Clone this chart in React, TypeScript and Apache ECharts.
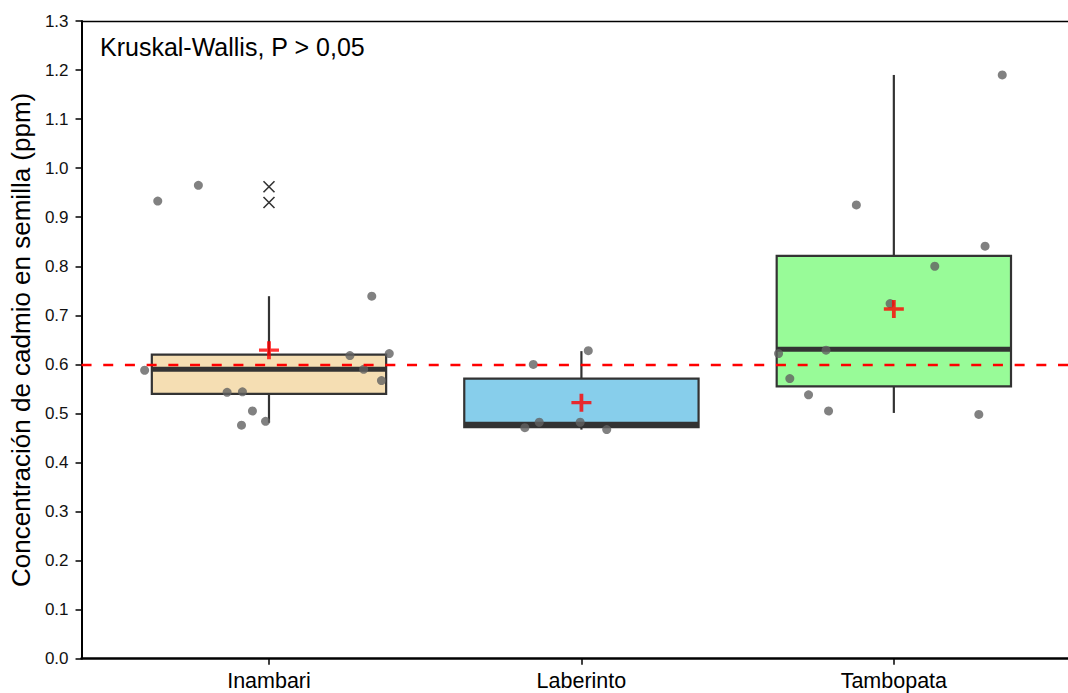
import React, { useEffect, useRef } from "react";
import * as echarts from "echarts";

const categories = ["Inambari", "Laberinto", "Tambopata"];

// [whisker low, Q1, median, Q3, whisker high]
const boxStats = [
  [0.481, 0.540, 0.590, 0.620, 0.739],
  [0.467, 0.472, 0.478, 0.571, 0.627],
  [0.501, 0.555, 0.631, 0.821, 1.190],
];

const means = [0.629, 0.522, 0.713];

// outliers of Inambari (group 0)
const outlierValues = [0.962, 0.930];

// jittered observations: [horizontal offset from category centre, value]
const pointsInambari = [
  [-0.356, 0.933], [-0.226, 0.965], [-0.398, 0.588], [-0.134, 0.543],
  [-0.085, 0.544], [-0.053, 0.505], [-0.088, 0.476], [-0.011, 0.484],
  [0.329, 0.739], [0.259, 0.618], [0.303, 0.590], [0.385, 0.622], [0.360, 0.567],
];
const pointsLaberinto = [
  [-0.154, 0.600], [0.022, 0.628], [-0.181, 0.471], [-0.135, 0.482],
  [-0.004, 0.482], [0.081, 0.467],
];
const pointsTambopata = [
  [0.347, 1.190], [-0.120, 0.925], [0.292, 0.841], [0.131, 0.800],
  [-0.012, 0.724], [-0.369, 0.622], [-0.217, 0.629], [-0.333, 0.571],
  [-0.273, 0.538], [-0.209, 0.505], [0.272, 0.498],
];

const threshold = 0.6;
const yTicks = [0, 1.3, 0.1]; // min, max, step
const annotation = "Kruskal-Wallis, P > 0,05";
const yTitle = "Concentración de cadmio en semilla (ppm)";

export default function App() {
  const ref = useRef<HTMLDivElement>(null);

  useEffect(() => {
    document.body.style.margin = "0";
    document.body.style.overflow = "hidden";
    if (!ref.current) return;
    const chart = echarts.init(ref.current, null, { renderer: "svg" });
    const font = "'Liberation Sans', Arial, sans-serif";
    const fills = ["#F5DEB3", "#87CEEB", "#98FB98"];
    const edge = "#333333";
    const halfBox = 0.375;

    const groups = [pointsInambari, pointsLaberinto, pointsTambopata];
    const points: number[][] = [];
    groups.forEach((g, gi) => g.forEach((p) => points.push([gi + p[0], p[1]])));

    const option: any = {
      animation: false,
      grid: { left: 80.7, top: 21, right: 3.7, bottom: 34.3, show: false },
      title: {
        text: annotation,
        left: 100,
        top: 34,
        padding: 0,
        textStyle: { fontFamily: font, fontSize: 25, fontWeight: "normal", color: "#000" },
      },
      xAxis: [
        {
          type: "value",
          min: -0.6,
          max: 2.6,
          splitLine: { show: false },
          axisLine: { show: true, onZero: false, lineStyle: { color: "#000", width: 2.5 } },
          axisTick: { show: true, customValues: [0, 1, 2], length: 6, lineStyle: { color: "#000", width: 1.5 } },
          axisLabel: {
            customValues: [0, 1, 2],
            formatter: (v: number) => categories[Math.round(v)] ?? "",
            fontFamily: font,
            fontSize: 21.5,
            color: "#000",
            margin: 11,
          },
        },
        {
          type: "value",
          position: "top",
          min: -0.6,
          max: 2.6,
          splitLine: { show: false },
          axisLine: { show: true, onZero: false, lineStyle: { color: "#000", width: 1.3 } },
          axisTick: { show: false },
          axisLabel: { show: false },
        },
      ],
      yAxis: {
        type: "value",
        min: yTicks[0],
        max: yTicks[1],
        interval: yTicks[2],
        name: yTitle,
        nameLocation: "middle",
        nameGap: 45,
        nameTextStyle: { fontFamily: font, fontSize: 26, color: "#000" },
        splitLine: { show: false },
        axisLine: { show: true, onZero: false, lineStyle: { color: "#000", width: 2 } },
        axisTick: { show: true, length: 6, lineStyle: { color: "#000", width: 1.5 } },
        axisLabel: {
          formatter: (v: number) => v.toFixed(1),
          fontFamily: font,
          fontSize: 17,
          color: "#111",
          margin: 13,
        },
      },
      series: [
        {
          type: "custom",
          z: 2,
          data: boxStats.map((s, i) => [i, ...s]),
          encode: { x: 0, y: [1, 2, 3, 4, 5] },
          renderItem: (params: any, api: any) => {
            const x = api.value(0);
            const lo = api.value(1);
            const q1 = api.value(2);
            const med = api.value(3);
            const q3 = api.value(4);
            const hi = api.value(5);
            const tl = api.coord([x - halfBox, q3]);
            const br = api.coord([x + halfBox, q1]);
            const pLo = api.coord([x, lo]);
            const pHi = api.coord([x, hi]);
            const pQ1 = api.coord([x, q1]);
            const pQ3 = api.coord([x, q3]);
            const mL = api.coord([x - halfBox, med]);
            const mR = api.coord([x + halfBox, med]);
            return {
              type: "group",
              children: [
                { type: "line", shape: { x1: pLo[0], y1: pLo[1], x2: pQ1[0], y2: pQ1[1] }, style: { stroke: edge, lineWidth: 2.2 } },
                { type: "line", shape: { x1: pQ3[0], y1: pQ3[1], x2: pHi[0], y2: pHi[1] }, style: { stroke: edge, lineWidth: 2.2 } },
                {
                  type: "rect",
                  shape: { x: tl[0], y: tl[1], width: br[0] - tl[0], height: br[1] - tl[1] },
                  style: { fill: fills[params.dataIndex], stroke: edge, lineWidth: 2.2 },
                },
                { type: "line", shape: { x1: mL[0], y1: mL[1], x2: mR[0], y2: mR[1] }, style: { stroke: edge, lineWidth: 5 } },
              ],
            };
          },
        },
        {
          type: "scatter",
          z: 3,
          data: [],
          markLine: {
            silent: true,
            symbol: ["none", "none"],
            label: { show: false },
            lineStyle: { color: "#ff0000", type: [10, 11.7], width: 2.3 },
            data: [{ yAxis: threshold }],
          },
        },
        {
          type: "scatter",
          z: 4,
          symbol: "circle",
          symbolSize: 9,
          itemStyle: { color: "#626262" },
          data: points,
        },
        {
          type: "scatter",
          z: 5,
          symbol: "path://M10,0L10,20M0,10L20,10",
          symbolSize: [20, 18],
          itemStyle: { color: "none", borderColor: "#ff0000", borderWidth: 3.6 },
          data: means.map((m, i) => [i, m]),
        },
        {
          type: "scatter",
          z: 5,
          symbol: "path://M0,0L10,10M10,0L0,10",
          symbolSize: 11,
          itemStyle: { color: "none", borderColor: "#000", borderWidth: 1.6 },
          data: outlierValues.map((v) => [0, v]),
        },
      ],
    };
    chart.setOption(option);
    return () => chart.dispose();
  }, []);

  return <div ref={ref} style={{ width: 1085, height: 693 }} />;
}
